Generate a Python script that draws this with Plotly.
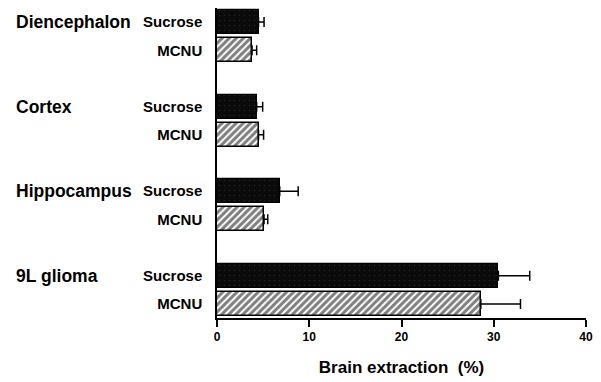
import plotly.graph_objects as go

regions = ["Diencephalon", "Cortex", "Hippocampus", "9L glioma"]
treatments = ["Sucrose", "MCNU"]
sucrose_vals = [4.5, 4.3, 6.8, 30.5]
sucrose_err = [0.6, 0.65, 2.0, 3.4]
mcnu_vals = [3.8, 4.5, 5.1, 28.6]
mcnu_err = [0.5, 0.55, 0.4, 4.3]
x_ticks = [0, 10, 20, 30, 40]
x_title = "Brain extraction  (%)"

FONT = "Liberation Sans, Arial, Helvetica, sans-serif"

ys_s = [3 * i for i in range(len(regions))]
ys_m = [3 * i + 1 for i in range(len(regions))]

fig = go.Figure()
fig.add_trace(go.Bar(
    y=ys_s, x=sucrose_vals, orientation="h", width=0.85,
    marker=dict(color="#0a0a0a", line=dict(color="black", width=1.2),
                pattern=dict(shape=".", fgcolor="#3a3a3a", bgcolor="#0a0a0a", size=5, solidity=0.08)),
    error_x=dict(type="data", symmetric=False, array=sucrose_err,
                 arrayminus=[0] * len(sucrose_err), color="black", thickness=1.5, width=5),
    showlegend=False,
))
fig.add_trace(go.Bar(
    y=ys_m, x=mcnu_vals, orientation="h", width=0.85,
    marker=dict(color="white", line=dict(color="black", width=1.5),
                pattern=dict(shape="/", fgcolor="black", bgcolor="white", size=5, solidity=0.6)),
    error_x=dict(type="data", symmetric=False, array=mcnu_err,
                 arrayminus=[0] * len(mcnu_err), color="black", thickness=1.5, width=5),
    showlegend=False,
))

tickvals = []
ticktext = []
for i in range(len(regions)):
    tickvals += [ys_s[i], ys_m[i]]
    ticktext += treatments

for i, r in enumerate(regions):
    fig.add_annotation(
        text=f"<b>{r}</b>", xref="paper", yref="y", x=-0.55, y=ys_s[i],
        xanchor="left", yanchor="middle", showarrow=False,
        font=dict(family=FONT, size=17.5, color="black"),
    )

fig.update_layout(
    width=601, height=382,
    margin=dict(l=217, r=11, t=8, b=59),
    plot_bgcolor="white", paper_bgcolor="white",
    bargap=0,
    font=dict(family=FONT, color="black"),
    xaxis=dict(
        range=[0, 40], tickvals=x_ticks, ticktext=[f"<b>{v}</b>" for v in x_ticks],
        showgrid=False, zeroline=False, showline=True, linecolor="black", linewidth=1.5,
        ticks="outside", ticklen=7, tickwidth=1.5, tickcolor="black",
        tickfont=dict(family=FONT, size=12, color="black"),
        title=dict(text=f"<b>{x_title}</b>", font=dict(family=FONT, size=17, color="black"), standoff=18),
    ),
    yaxis=dict(
        range=[10.5, -0.5], tickvals=tickvals, ticktext=[f"<b>{t}</b>" for t in ticktext],
        showgrid=False, zeroline=False, showline=True, linecolor="black", linewidth=1.5,
        ticks="", ticklabelstandoff=10,
        tickfont=dict(family=FONT, size=15, color="black"),
    ),
)

fig.write_html("out.html")
